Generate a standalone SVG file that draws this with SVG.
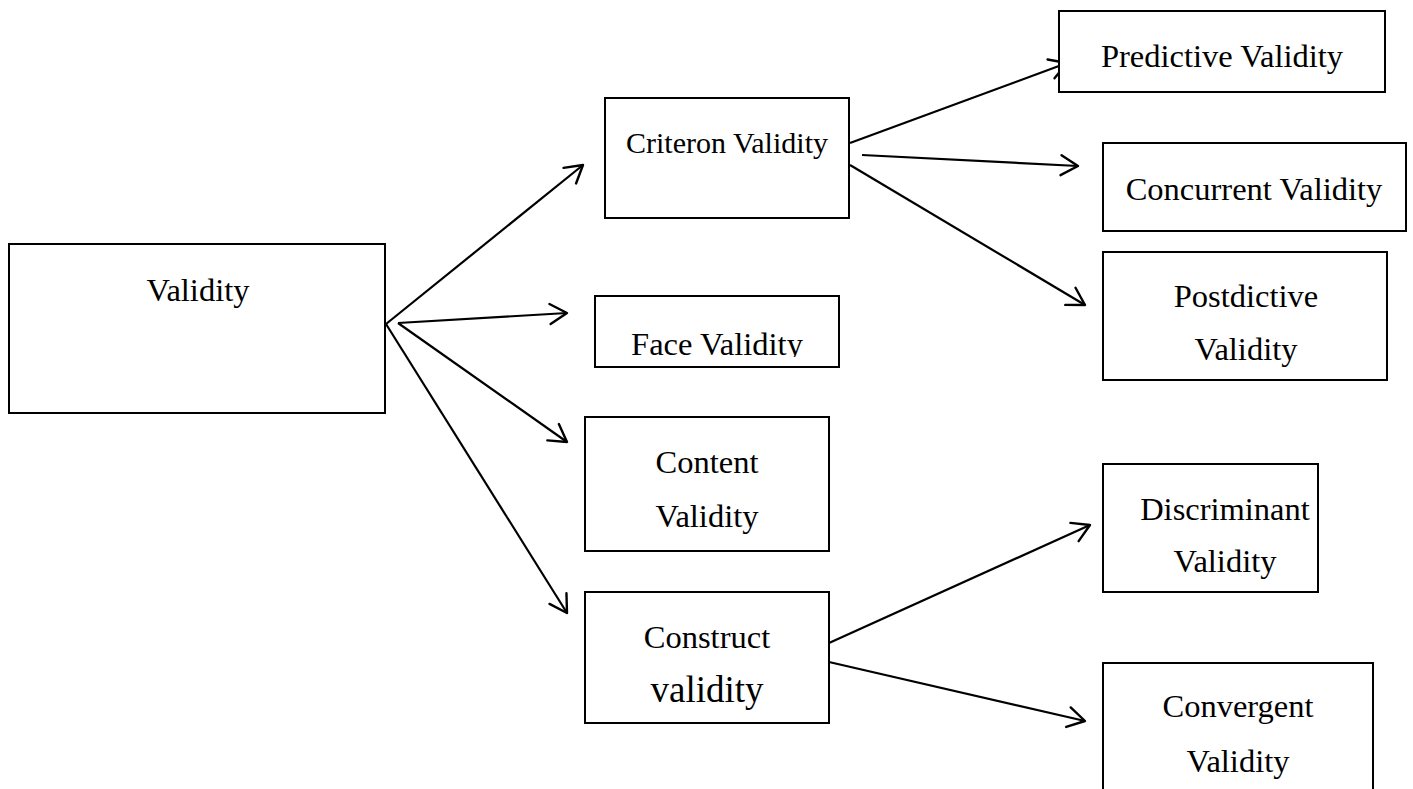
<svg xmlns="http://www.w3.org/2000/svg" width="1413" height="789" viewBox="0 0 1413 789">
  <defs>
    <style>
      .box { fill: #ffffff; stroke: #000000; stroke-width: 2; }
      .lbl { font-family: "Liberation Serif", "Times New Roman", serif; font-size: 32.5px; fill: #000000; text-anchor: middle; }
      .small { font-size: 30px; }
      .big { font-size: 37px; }
      .edge { fill: none; stroke: #000000; stroke-width: 2.2; marker-end: url(#head); }
    </style>
    <marker id="head" markerUnits="userSpaceOnUse" markerWidth="30" markerHeight="30" viewBox="-20 -15 25 30" refX="0" refY="0" orient="auto">
      <path d="M -17 -10 L 0 0 L -17 10" fill="none" stroke="#000000" stroke-width="2.4" stroke-linecap="round" stroke-linejoin="round"/>
    </marker>
    <clipPath id="faceClip">
      <rect x="595" y="295" width="245" height="62"/>
    </clipPath>
  </defs>

  <!-- connectors -->
  <g id="connectors">
    <line class="edge" x1="386" y1="324" x2="583" y2="165"/>
    <line class="edge" x1="398" y1="323" x2="567" y2="313"/>
    <line class="edge" x1="398" y1="323" x2="567" y2="442"/>
    <line class="edge" x1="386" y1="324" x2="567" y2="613"/>
    <line class="edge" x1="850" y1="143" x2="1067" y2="63"/>
    <line class="edge" x1="862" y1="155" x2="1078" y2="166"/>
    <line class="edge" x1="850" y1="165" x2="1085" y2="305"/>
    <line class="edge" x1="829" y1="643" x2="1090" y2="525"/>
    <line class="edge" x1="829" y1="662" x2="1085" y2="721"/>
  </g>

  <g id="validity">
    <rect class="box" x="9" y="244" width="376" height="169"/>
    <text class="lbl" x="198" y="301">Validity</text>
  </g>

  <g id="criterion">
    <rect class="box" x="605" y="98" width="244" height="120"/>
    <text class="lbl small" x="727" y="153">Criteron Validity</text>
  </g>

  <g id="face">
    <rect class="box" x="595" y="296" width="244" height="71"/>
    <text class="lbl" x="717" y="355" clip-path="url(#faceClip)">Face Validity</text>
  </g>

  <g id="content">
    <rect class="box" x="585" y="417" width="244" height="134"/>
    <text class="lbl" x="707" y="473">Content</text>
    <text class="lbl" x="707" y="527">Validity</text>
  </g>

  <g id="construct">
    <rect class="box" x="585" y="592" width="244" height="131"/>
    <text class="lbl" x="707" y="648">Construct</text>
    <text class="lbl big" x="707" y="702">validity</text>
  </g>

  <g id="predictive">
    <rect class="box" x="1059" y="11" width="326" height="81"/>
    <text class="lbl" x="1222" y="67">Predictive Validity</text>
  </g>

  <g id="concurrent">
    <rect class="box" x="1103" y="143" width="303" height="88"/>
    <text class="lbl" x="1254" y="200">Concurrent Validity</text>
  </g>

  <g id="postdictive">
    <rect class="box" x="1103" y="252" width="284" height="128"/>
    <text class="lbl" x="1246" y="307">Postdictive</text>
    <text class="lbl" x="1246" y="360">Validity</text>
  </g>

  <g id="discriminant">
    <rect class="box" x="1103" y="464" width="215" height="128"/>
    <text class="lbl" x="1225" y="520">Discriminant</text>
    <text class="lbl" x="1225" y="572">Validity</text>
  </g>

  <g id="convergent">
    <rect class="box" x="1103" y="663" width="270" height="140"/>
    <text class="lbl" x="1238" y="717">Convergent</text>
    <text class="lbl" x="1238" y="772">Validity</text>
  </g>
</svg>
